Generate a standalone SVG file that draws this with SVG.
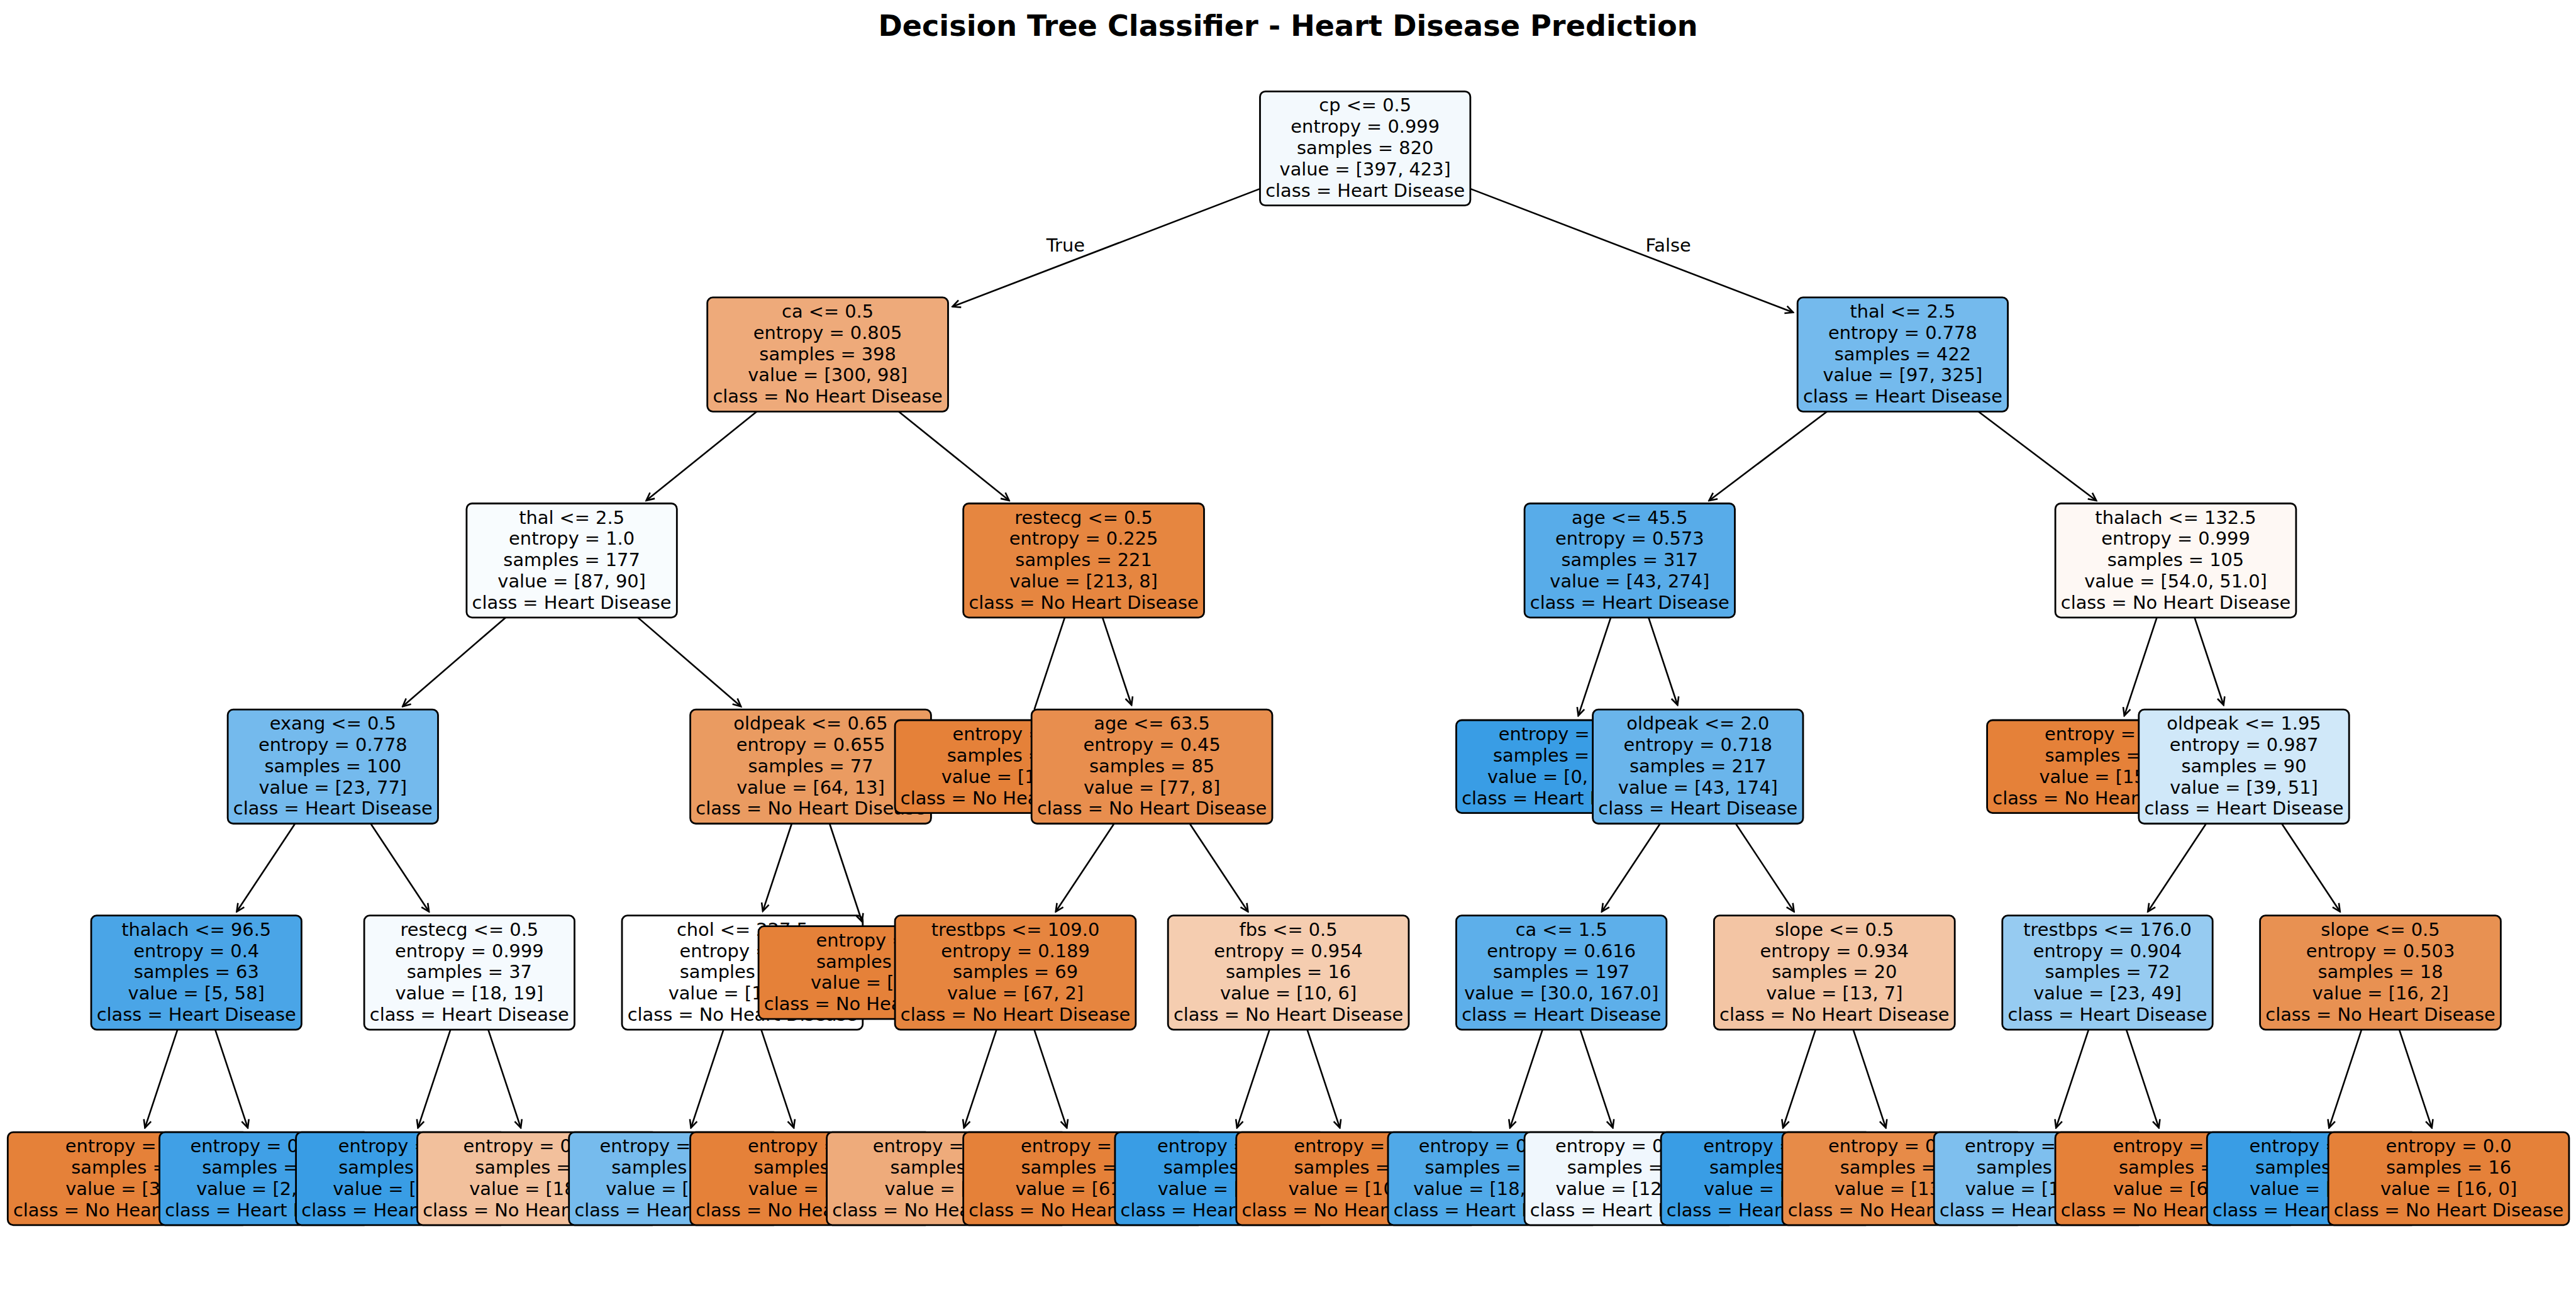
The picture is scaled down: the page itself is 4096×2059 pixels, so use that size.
<svg xmlns="http://www.w3.org/2000/svg" width="4096" height="2059" viewBox="0 0 4096 2059">
<defs>
<style>
.bx{stroke:#000;stroke-width:2.8}
.t{font-family:"DejaVu Sans",Verdana,sans-serif;font-size:28.85px;text-anchor:middle;fill:#000}
.lb{font-family:"DejaVu Sans",Verdana,sans-serif;font-size:28.85px;fill:#000}
.e{stroke:#000;stroke-width:2.6;fill:none;marker-end:url(#ah)}
.e2{stroke:#000;stroke-width:2.6;fill:none}
.title{font-family:"DejaVu Sans",Verdana,sans-serif;font-size:46.17px;font-weight:bold;text-anchor:middle;fill:#000}
</style>
<marker id="ah" markerUnits="userSpaceOnUse" markerWidth="16" markerHeight="16" viewBox="-14 -8 16 16" refX="0" refY="0" orient="auto">
<path d="M-12.5,-6 L0,0 L-12.5,6" fill="none" stroke="#000" stroke-width="2.6"/>
</marker>
</defs>
<rect x="0" y="0" width="4096" height="2059" fill="#fff"/>
<text class="title" x="2048" y="56.5">Decision Tree Classifier - Heart Disease Prediction</text>

<!-- depth 5 leaves -->
<g id="leaf0"><rect class="bx" x="12.3" y="1800.2" width="382.8" height="147.6" rx="8.7" fill="#e58139"/><text class="t"><tspan x="203.7" y="1832.3">entropy = 0.0</tspan><tspan x="203.7" dy="33.8">samples = 3</tspan><tspan x="203.7" dy="33.8">value = [3, 0]</tspan><tspan x="203.7" dy="33.8">class = No Heart Disease</tspan></text></g>
<g id="leaf1"><rect class="bx" x="253.55" y="1800.2" width="334.4" height="147.6" rx="8.7" fill="#40a0e6"/><text class="t"><tspan x="420.75" y="1832.3">entropy = 0.211</tspan><tspan x="420.75" dy="33.8">samples = 60</tspan><tspan x="420.75" dy="33.8">value = [2, 58]</tspan><tspan x="420.75" dy="33.8">class = Heart Disease</tspan></text></g>
<g id="leaf2"><rect class="bx" x="470.6" y="1800.2" width="334.4" height="147.6" rx="8.7" fill="#399de5"/><text class="t"><tspan x="637.8" y="1832.3">entropy = 0.0</tspan><tspan x="637.8" dy="33.8">samples = 10</tspan><tspan x="637.8" dy="33.8">value = [0, 10]</tspan><tspan x="637.8" dy="33.8">class = Heart Disease</tspan></text></g>
<g id="leaf3"><rect class="bx" x="663.45" y="1800.2" width="382.8" height="147.6" rx="8.7" fill="#f2c09c"/><text class="t"><tspan x="854.85" y="1832.3">entropy = 0.918</tspan><tspan x="854.85" dy="33.8">samples = 27</tspan><tspan x="854.85" dy="33.8">value = [18, 9]</tspan><tspan x="854.85" dy="33.8">class = No Heart Disease</tspan></text></g>
<g id="leaf4"><rect class="bx" x="904.7" y="1800.2" width="334.4" height="147.6" rx="8.7" fill="#76bbed"/><text class="t"><tspan x="1071.9" y="1832.3">entropy = 0.787</tspan><tspan x="1071.9" dy="33.8">samples = 17</tspan><tspan x="1071.9" dy="33.8">value = [4, 13]</tspan><tspan x="1071.9" dy="33.8">class = Heart Disease</tspan></text></g>
<g id="leaf5"><rect class="bx" x="1097.55" y="1800.2" width="382.8" height="147.6" rx="8.7" fill="#e58139"/><text class="t"><tspan x="1288.95" y="1832.3">entropy = 0.0</tspan><tspan x="1288.95" dy="33.8">samples = 9</tspan><tspan x="1288.95" dy="33.8">value = [9, 0]</tspan><tspan x="1288.95" dy="33.8">class = No Heart Disease</tspan></text></g>
<g id="leaf6"><rect class="bx" x="1314.6" y="1800.2" width="382.8" height="147.6" rx="8.7" fill="#eeab7b"/><text class="t"><tspan x="1506" y="1832.3">entropy = 0.811</tspan><tspan x="1506" dy="33.8">samples = 8</tspan><tspan x="1506" dy="33.8">value = [6, 2]</tspan><tspan x="1506" dy="33.8">class = No Heart Disease</tspan></text></g>
<g id="leaf7"><rect class="bx" x="1531.65" y="1800.2" width="382.8" height="147.6" rx="8.7" fill="#e58139"/><text class="t"><tspan x="1723.05" y="1832.3">entropy = 0.0</tspan><tspan x="1723.05" dy="33.8">samples = 61</tspan><tspan x="1723.05" dy="33.8">value = [61, 0]</tspan><tspan x="1723.05" dy="33.8">class = No Heart Disease</tspan></text></g>
<g id="leaf8"><rect class="bx" x="1772.9" y="1800.2" width="334.4" height="147.6" rx="8.7" fill="#399de5"/><text class="t"><tspan x="1940.1" y="1832.3">entropy = 0.0</tspan><tspan x="1940.1" dy="33.8">samples = 6</tspan><tspan x="1940.1" dy="33.8">value = [0, 6]</tspan><tspan x="1940.1" dy="33.8">class = Heart Disease</tspan></text></g>
<g id="leaf9"><rect class="bx" x="1965.75" y="1800.2" width="382.8" height="147.6" rx="8.7" fill="#e58139"/><text class="t"><tspan x="2157.15" y="1832.3">entropy = 0.0</tspan><tspan x="2157.15" dy="33.8">samples = 10</tspan><tspan x="2157.15" dy="33.8">value = [10, 0]</tspan><tspan x="2157.15" dy="33.8">class = No Heart Disease</tspan></text></g>
<g id="leaf10"><rect class="bx" x="2207" y="1800.2" width="334.4" height="147.6" rx="8.7" fill="#50a9e8"/><text class="t"><tspan x="2374.2" y="1832.3">entropy = 0.484</tspan><tspan x="2374.2" dy="33.8">samples = 172</tspan><tspan x="2374.2" dy="33.8">value = [18, 154]</tspan><tspan x="2374.2" dy="33.8">class = Heart Disease</tspan></text></g>
<g id="leaf11"><rect class="bx" x="2424.05" y="1800.2" width="334.4" height="147.6" rx="8.7" fill="#f0f7fd"/><text class="t"><tspan x="2591.25" y="1832.3">entropy = 0.999</tspan><tspan x="2591.25" dy="33.8">samples = 25</tspan><tspan x="2591.25" dy="33.8">value = [12, 13]</tspan><tspan x="2591.25" dy="33.8">class = Heart Disease</tspan></text></g>
<g id="leaf12"><rect class="bx" x="2641.1" y="1800.2" width="334.4" height="147.6" rx="8.7" fill="#399de5"/><text class="t"><tspan x="2808.3" y="1832.3">entropy = 0.0</tspan><tspan x="2808.3" dy="33.8">samples = 6</tspan><tspan x="2808.3" dy="33.8">value = [0, 6]</tspan><tspan x="2808.3" dy="33.8">class = Heart Disease</tspan></text></g>
<g id="leaf13"><rect class="bx" x="2833.95" y="1800.2" width="382.8" height="147.6" rx="8.7" fill="#e78b48"/><text class="t"><tspan x="3025.35" y="1832.3">entropy = 0.371</tspan><tspan x="3025.35" dy="33.8">samples = 14</tspan><tspan x="3025.35" dy="33.8">value = [13, 1]</tspan><tspan x="3025.35" dy="33.8">class = No Heart Disease</tspan></text></g>
<g id="leaf14"><rect class="bx" x="3075.2" y="1800.2" width="334.4" height="147.6" rx="8.7" fill="#7ebfee"/><text class="t"><tspan x="3242.4" y="1832.3">entropy = 0.823</tspan><tspan x="3242.4" dy="33.8">samples = 66</tspan><tspan x="3242.4" dy="33.8">value = [17, 49]</tspan><tspan x="3242.4" dy="33.8">class = Heart Disease</tspan></text></g>
<g id="leaf15"><rect class="bx" x="3268.05" y="1800.2" width="382.8" height="147.6" rx="8.7" fill="#e58139"/><text class="t"><tspan x="3459.45" y="1832.3">entropy = 0.0</tspan><tspan x="3459.45" dy="33.8">samples = 6</tspan><tspan x="3459.45" dy="33.8">value = [6, 0]</tspan><tspan x="3459.45" dy="33.8">class = No Heart Disease</tspan></text></g>
<g id="leaf16"><rect class="bx" x="3509.3" y="1800.2" width="334.4" height="147.6" rx="8.7" fill="#399de5"/><text class="t"><tspan x="3676.5" y="1832.3">entropy = 0.0</tspan><tspan x="3676.5" dy="33.8">samples = 2</tspan><tspan x="3676.5" dy="33.8">value = [0, 2]</tspan><tspan x="3676.5" dy="33.8">class = Heart Disease</tspan></text></g>
<g id="leaf17"><rect class="bx" x="3702.15" y="1800.2" width="382.8" height="147.6" rx="8.7" fill="#e58139"/><text class="t"><tspan x="3893.55" y="1832.3">entropy = 0.0</tspan><tspan x="3893.55" dy="33.8">samples = 16</tspan><tspan x="3893.55" dy="33.8">value = [16, 0]</tspan><tspan x="3893.55" dy="33.8">class = No Heart Disease</tspan></text></g>

<!-- depth 4 -->
<g id="thalach965"><rect class="bx" x="145" y="1455.7" width="334.4" height="181.4" rx="8.7" fill="#4aa5e7"/><text class="t"><tspan x="312.2" y="1487.8">thalach &lt;= 96.5</tspan><tspan x="312.2" dy="33.8">entropy = 0.4</tspan><tspan x="312.2" dy="33.8">samples = 63</tspan><tspan x="312.2" dy="33.8">value = [5, 58]</tspan><tspan x="312.2" dy="33.8">class = Heart Disease</tspan></text></g>
<g id="restecg37"><rect class="bx" x="579.1" y="1455.7" width="334.4" height="181.4" rx="8.7" fill="#f5fafe"/><text class="t"><tspan x="746.3" y="1487.8">restecg &lt;= 0.5</tspan><tspan x="746.3" dy="33.8">entropy = 0.999</tspan><tspan x="746.3" dy="33.8">samples = 37</tspan><tspan x="746.3" dy="33.8">value = [18, 19]</tspan><tspan x="746.3" dy="33.8">class = Heart Disease</tspan></text></g>
<g id="chol"><rect class="bx" x="989" y="1455.7" width="382.8" height="181.4" rx="8.7" fill="#ffffff"/><text class="t"><tspan x="1180.4" y="1487.8">chol &lt;= 227.5</tspan><tspan x="1180.4" dy="33.8">entropy = 1.0</tspan><tspan x="1180.4" dy="33.8">samples = 26</tspan><tspan x="1180.4" dy="33.8">value = [13, 13]</tspan><tspan x="1180.4" dy="33.8">class = No Heart Disease</tspan></text></g>
<g id="leafO"><rect class="bx" x="1206.1" y="1472.6" width="382.8" height="147.6" rx="8.7" fill="#e58139"/><text class="t"><tspan x="1397.5" y="1504.7">entropy = 0.0</tspan><tspan x="1397.5" dy="33.8">samples = 51</tspan><tspan x="1397.5" dy="33.8">value = [51, 0]</tspan><tspan x="1397.5" dy="33.8">class = No Heart Disease</tspan></text></g>
<g id="trestbps109"><rect class="bx" x="1423.1" y="1455.7" width="382.8" height="181.4" rx="8.7" fill="#e6853f"/><text class="t"><tspan x="1614.5" y="1487.8">trestbps &lt;= 109.0</tspan><tspan x="1614.5" dy="33.8">entropy = 0.189</tspan><tspan x="1614.5" dy="33.8">samples = 69</tspan><tspan x="1614.5" dy="33.8">value = [67, 2]</tspan><tspan x="1614.5" dy="33.8">class = No Heart Disease</tspan></text></g>
<g id="fbs"><rect class="bx" x="1857.2" y="1455.7" width="382.8" height="181.4" rx="8.7" fill="#f5cdb0"/><text class="t"><tspan x="2048.6" y="1487.8">fbs &lt;= 0.5</tspan><tspan x="2048.6" dy="33.8">entropy = 0.954</tspan><tspan x="2048.6" dy="33.8">samples = 16</tspan><tspan x="2048.6" dy="33.8">value = [10, 6]</tspan><tspan x="2048.6" dy="33.8">class = No Heart Disease</tspan></text></g>
<g id="ca15"><rect class="bx" x="2315.5" y="1455.7" width="334.4" height="181.4" rx="8.7" fill="#5dafea"/><text class="t"><tspan x="2482.7" y="1487.8">ca &lt;= 1.5</tspan><tspan x="2482.7" dy="33.8">entropy = 0.616</tspan><tspan x="2482.7" dy="33.8">samples = 197</tspan><tspan x="2482.7" dy="33.8">value = [30.0, 167.0]</tspan><tspan x="2482.7" dy="33.8">class = Heart Disease</tspan></text></g>
<g id="slope20"><rect class="bx" x="2725.4" y="1455.7" width="382.8" height="181.4" rx="8.7" fill="#f3c5a4"/><text class="t"><tspan x="2916.8" y="1487.8">slope &lt;= 0.5</tspan><tspan x="2916.8" dy="33.8">entropy = 0.934</tspan><tspan x="2916.8" dy="33.8">samples = 20</tspan><tspan x="2916.8" dy="33.8">value = [13, 7]</tspan><tspan x="2916.8" dy="33.8">class = No Heart Disease</tspan></text></g>
<g id="trestbps176"><rect class="bx" x="3183.8" y="1455.7" width="334.4" height="181.4" rx="8.7" fill="#96cbf1"/><text class="t"><tspan x="3351" y="1487.8">trestbps &lt;= 176.0</tspan><tspan x="3351" dy="33.8">entropy = 0.904</tspan><tspan x="3351" dy="33.8">samples = 72</tspan><tspan x="3351" dy="33.8">value = [23, 49]</tspan><tspan x="3351" dy="33.8">class = Heart Disease</tspan></text></g>
<g id="slope18"><rect class="bx" x="3593.6" y="1455.7" width="382.8" height="181.4" rx="8.7" fill="#e89152"/><text class="t"><tspan x="3785" y="1487.8">slope &lt;= 0.5</tspan><tspan x="3785" dy="33.8">entropy = 0.503</tspan><tspan x="3785" dy="33.8">samples = 18</tspan><tspan x="3785" dy="33.8">value = [16, 2]</tspan><tspan x="3785" dy="33.8">class = No Heart Disease</tspan></text></g>

<!-- depth 3 -->
<g id="exang"><rect class="bx" x="362.1" y="1128.1" width="334.4" height="181.4" rx="8.7" fill="#74baed"/><text class="t"><tspan x="529.3" y="1160.2">exang &lt;= 0.5</tspan><tspan x="529.3" dy="33.8">entropy = 0.778</tspan><tspan x="529.3" dy="33.8">samples = 100</tspan><tspan x="529.3" dy="33.8">value = [23, 77]</tspan><tspan x="529.3" dy="33.8">class = Heart Disease</tspan></text></g>
<g id="oldpeak065"><rect class="bx" x="1097.6" y="1128.1" width="382.8" height="181.4" rx="8.7" fill="#ea9b61"/><text class="t"><tspan x="1289" y="1160.2">oldpeak &lt;= 0.65</tspan><tspan x="1289" dy="33.8">entropy = 0.655</tspan><tspan x="1289" dy="33.8">samples = 77</tspan><tspan x="1289" dy="33.8">value = [64, 13]</tspan><tspan x="1289" dy="33.8">class = No Heart Disease</tspan></text></g>
<g id="leafR1"><rect class="bx" x="1423.1" y="1145" width="382.8" height="147.6" rx="8.7" fill="#e58139"/><text class="t"><tspan x="1614.5" y="1177.1">entropy = 0.0</tspan><tspan x="1614.5" dy="33.8">samples = 136</tspan><tspan x="1614.5" dy="33.8">value = [136, 0]</tspan><tspan x="1614.5" dy="33.8">class = No Heart Disease</tspan></text></g>
<g id="age635"><rect class="bx" x="1640.2" y="1128.1" width="382.8" height="181.4" rx="8.7" fill="#e88e4e"/><text class="t"><tspan x="1831.6" y="1160.2">age &lt;= 63.5</tspan><tspan x="1831.6" dy="33.8">entropy = 0.45</tspan><tspan x="1831.6" dy="33.8">samples = 85</tspan><tspan x="1831.6" dy="33.8">value = [77, 8]</tspan><tspan x="1831.6" dy="33.8">class = No Heart Disease</tspan></text></g>
<g id="leafA"><rect class="bx" x="2315.5" y="1145" width="334.4" height="147.6" rx="8.7" fill="#399de5"/><text class="t"><tspan x="2482.7" y="1177.1">entropy = 0.0</tspan><tspan x="2482.7" dy="33.8">samples = 100</tspan><tspan x="2482.7" dy="33.8">value = [0, 100]</tspan><tspan x="2482.7" dy="33.8">class = Heart Disease</tspan></text></g>
<g id="oldpeak20"><rect class="bx" x="2532.6" y="1128.1" width="334.4" height="181.4" rx="8.7" fill="#6ab5eb"/><text class="t"><tspan x="2699.8" y="1160.2">oldpeak &lt;= 2.0</tspan><tspan x="2699.8" dy="33.8">entropy = 0.718</tspan><tspan x="2699.8" dy="33.8">samples = 217</tspan><tspan x="2699.8" dy="33.8">value = [43, 174]</tspan><tspan x="2699.8" dy="33.8">class = Heart Disease</tspan></text></g>
<g id="leafT"><rect class="bx" x="3159.6" y="1145" width="382.8" height="147.6" rx="8.7" fill="#e58139"/><text class="t"><tspan x="3351" y="1177.1">entropy = 0.0</tspan><tspan x="3351" dy="33.8">samples = 15</tspan><tspan x="3351" dy="33.8">value = [15, 0]</tspan><tspan x="3351" dy="33.8">class = No Heart Disease</tspan></text></g>
<g id="oldpeak195"><rect class="bx" x="3400.8" y="1128.1" width="334.4" height="181.4" rx="8.7" fill="#d0e8f9"/><text class="t"><tspan x="3568" y="1160.2">oldpeak &lt;= 1.95</tspan><tspan x="3568" dy="33.8">entropy = 0.987</tspan><tspan x="3568" dy="33.8">samples = 90</tspan><tspan x="3568" dy="33.8">value = [39, 51]</tspan><tspan x="3568" dy="33.8">class = Heart Disease</tspan></text></g>

<!-- depth 2 -->
<g id="thal177"><rect class="bx" x="741.9" y="800.5" width="334.4" height="181.4" rx="8.7" fill="#f8fcfe"/><text class="t"><tspan x="909.1" y="832.6">thal &lt;= 2.5</tspan><tspan x="909.1" dy="33.8">entropy = 1.0</tspan><tspan x="909.1" dy="33.8">samples = 177</tspan><tspan x="909.1" dy="33.8">value = [87, 90]</tspan><tspan x="909.1" dy="33.8">class = Heart Disease</tspan></text></g>
<g id="restecg221"><rect class="bx" x="1531.7" y="800.5" width="382.8" height="181.4" rx="8.7" fill="#e68640"/><text class="t"><tspan x="1723.1" y="832.6">restecg &lt;= 0.5</tspan><tspan x="1723.1" dy="33.8">entropy = 0.225</tspan><tspan x="1723.1" dy="33.8">samples = 221</tspan><tspan x="1723.1" dy="33.8">value = [213, 8]</tspan><tspan x="1723.1" dy="33.8">class = No Heart Disease</tspan></text></g>
<g id="age455"><rect class="bx" x="2424.1" y="800.5" width="334.4" height="181.4" rx="8.7" fill="#58ace9"/><text class="t"><tspan x="2591.3" y="832.6">age &lt;= 45.5</tspan><tspan x="2591.3" dy="33.8">entropy = 0.573</tspan><tspan x="2591.3" dy="33.8">samples = 317</tspan><tspan x="2591.3" dy="33.8">value = [43, 274]</tspan><tspan x="2591.3" dy="33.8">class = Heart Disease</tspan></text></g>
<g id="thalach1325"><rect class="bx" x="3268.1" y="800.5" width="382.8" height="181.4" rx="8.7" fill="#fef8f4"/><text class="t"><tspan x="3459.5" y="832.6">thalach &lt;= 132.5</tspan><tspan x="3459.5" dy="33.8">entropy = 0.999</tspan><tspan x="3459.5" dy="33.8">samples = 105</tspan><tspan x="3459.5" dy="33.8">value = [54.0, 51.0]</tspan><tspan x="3459.5" dy="33.8">class = No Heart Disease</tspan></text></g>

<!-- depth 1 -->
<g id="ca05"><rect class="bx" x="1124.7" y="472.9" width="382.8" height="181.4" rx="8.7" fill="#eeaa7a"/><text class="t"><tspan x="1316.1" y="505">ca &lt;= 0.5</tspan><tspan x="1316.1" dy="33.8">entropy = 0.805</tspan><tspan x="1316.1" dy="33.8">samples = 398</tspan><tspan x="1316.1" dy="33.8">value = [300, 98]</tspan><tspan x="1316.1" dy="33.8">class = No Heart Disease</tspan></text></g>
<g id="thal422"><rect class="bx" x="2858.2" y="472.9" width="334.4" height="181.4" rx="8.7" fill="#74baed"/><text class="t"><tspan x="3025.4" y="505">thal &lt;= 2.5</tspan><tspan x="3025.4" dy="33.8">entropy = 0.778</tspan><tspan x="3025.4" dy="33.8">samples = 422</tspan><tspan x="3025.4" dy="33.8">value = [97, 325]</tspan><tspan x="3025.4" dy="33.8">class = Heart Disease</tspan></text></g>

<!-- root -->
<g id="root"><rect class="bx" x="2003.5" y="145.3" width="334.4" height="181.4" rx="8.7" fill="#f3f9fd"/><text class="t"><tspan x="2170.7" y="177.4">cp &lt;= 0.5</tspan><tspan x="2170.7" dy="33.8">entropy = 0.999</tspan><tspan x="2170.7" dy="33.8">samples = 820</tspan><tspan x="2170.7" dy="33.8">value = [397, 423]</tspan><tspan x="2170.7" dy="33.8">class = Heart Disease</tspan></text></g>

<g id="connectors">
<line class="e" x1="2003.5" y1="300.1" x2="1514.5" y2="487.5"/>
<line class="e" x1="2337.9" y1="300.1" x2="2851.2" y2="496.8"/>
<line class="e" x1="1203.4" y1="654.3" x2="1027.6" y2="795.8"/>
<line class="e" x1="1428.8" y1="654.3" x2="1604.6" y2="795.8"/>
<line class="e" x1="2905.2" y1="654.3" x2="2717.5" y2="796"/>
<line class="e" x1="3145.6" y1="654.3" x2="3333.3" y2="796"/>
<line class="e" x1="803.9" y1="981.9" x2="640.2" y2="1123.2"/>
<line class="e" x1="1014.3" y1="981.9" x2="1178.1" y2="1123.2"/>
<line class="e2" x1="1693" y1="981.9" x2="1644.6" y2="1128.1"/>
<line class="e" x1="1753.1" y1="981.9" x2="1799.2" y2="1121"/>
<line class="e" x1="2561.2" y1="981.9" x2="2509.6" y2="1137.9"/>
<line class="e" x1="2621.3" y1="981.9" x2="2667.4" y2="1121"/>
<line class="e" x1="3429.5" y1="981.9" x2="3377.8" y2="1137.9"/>
<line class="e" x1="3489.5" y1="981.9" x2="3535.6" y2="1121"/>
<line class="e" x1="469.2" y1="1309.5" x2="376.4" y2="1449.5"/>
<line class="e" x1="589.4" y1="1309.5" x2="682.1" y2="1449.5"/>
<line class="e" x1="1258.9" y1="1309.5" x2="1212.9" y2="1448.6"/>
<line class="e" x1="1319.1" y1="1309.5" x2="1370.7" y2="1465.5"/>
<line class="e" x1="1771.5" y1="1309.5" x2="1678.7" y2="1449.5"/>
<line class="e" x1="1891.7" y1="1309.5" x2="1984.4" y2="1449.5"/>
<line class="e" x1="2639.7" y1="1309.5" x2="2546.9" y2="1449.5"/>
<line class="e" x1="2759.9" y1="1309.5" x2="2852.6" y2="1449.5"/>
<line class="e" x1="3507.9" y1="1309.5" x2="3415.2" y2="1449.5"/>
<line class="e" x1="3628.1" y1="1309.5" x2="3720.8" y2="1449.5"/>
<line class="e" x1="282.2" y1="1637.1" x2="230.5" y2="1793.1"/>
<line class="e" x1="342.2" y1="1637.1" x2="393.95" y2="1793.1"/>
<line class="e" x1="716.3" y1="1637.1" x2="664.6" y2="1793.1"/>
<line class="e" x1="776.3" y1="1637.1" x2="828.05" y2="1793.1"/>
<line class="e" x1="1150.4" y1="1637.1" x2="1098.7" y2="1793.1"/>
<line class="e" x1="1210.4" y1="1637.1" x2="1262.15" y2="1793.1"/>
<line class="e" x1="1584.5" y1="1637.1" x2="1532.8" y2="1793.1"/>
<line class="e" x1="1644.5" y1="1637.1" x2="1696.25" y2="1793.1"/>
<line class="e" x1="2018.6" y1="1637.1" x2="1966.9" y2="1793.1"/>
<line class="e" x1="2078.6" y1="1637.1" x2="2130.35" y2="1793.1"/>
<line class="e" x1="2452.7" y1="1637.1" x2="2401" y2="1793.1"/>
<line class="e" x1="2512.7" y1="1637.1" x2="2564.45" y2="1793.1"/>
<line class="e" x1="2886.8" y1="1637.1" x2="2835.1" y2="1793.1"/>
<line class="e" x1="2946.8" y1="1637.1" x2="2998.55" y2="1793.1"/>
<line class="e" x1="3321" y1="1637.1" x2="3269.25" y2="1793.1"/>
<line class="e" x1="3381" y1="1637.1" x2="3432.65" y2="1793.1"/>
<line class="e" x1="3755" y1="1637.1" x2="3703.3" y2="1793.1"/>
<line class="e" x1="3815" y1="1637.1" x2="3866.75" y2="1793.1"/>
<text class="lb" x="1725" y="399.8" text-anchor="end">True</text>
<text class="lb" x="2616.4" y="399.8" text-anchor="start">False</text>
</g>
</svg>
